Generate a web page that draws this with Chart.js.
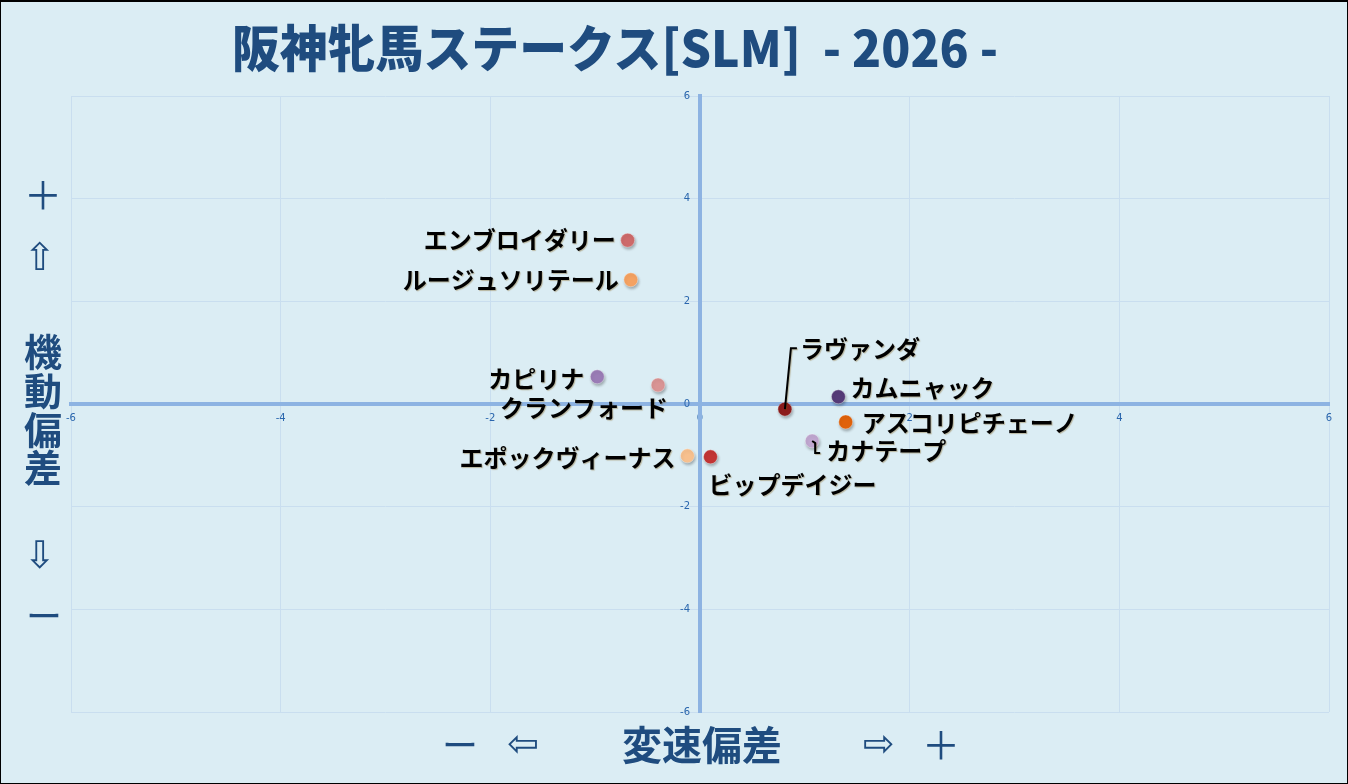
<!DOCTYPE html>
<html>
<head>
<meta charset="utf-8">
<script src="https://cdn.jsdelivr.net/npm/chart.js@4.4.1/dist/chart.umd.min.js"></script>
<style>
  html, body { margin:0; padding:0; background:#dbedf4; }
  #wrap { position:relative; width:1348px; height:784px; overflow:hidden; background:#dbedf4; }
  #cv { position:absolute; left:0; top:0; }
  .lbl { position:absolute; transform:translate(-50%,-50%); color:#1f4c7f; font-family:"Noto Sans CJK JP","Noto Sans",sans-serif; font-weight:700; white-space:nowrap; line-height:1; }
  .thin { font-weight:400; }
  .sym { font-family:"DejaVu Sans","Noto Sans CJK JP",sans-serif; font-weight:400; }
  #title { position:absolute; left:615px; top:45px; transform-origin:center center; color:#1f4c7f; font-family:"Noto Sans CJK JP",sans-serif; font-weight:900; font-size:50px; white-space:pre; line-height:1; }
  #frame { position:absolute; left:0; top:0; width:1348px; height:784px; box-sizing:border-box; border:1px solid #000; border-top-width:2px; pointer-events:none; }
</style>
</head>
<body>
<div id="wrap">
  <canvas id="cv" width="1348" height="784"></canvas>
  <div id="title">阪神牝馬ステークス[SLM]  - 2026 -</div>
  <div class="lbl thin" style="left:43px;top:193px;font-size:38px;">＋</div>
  <div class="lbl sym" style="left:40px;top:257px;font-size:38px;">⇧</div>
  <div class="lbl" style="left:43px;top:350px;font-size:38px;">機</div>
  <div class="lbl" style="left:43px;top:389px;font-size:38px;">動</div>
  <div class="lbl" style="left:43px;top:428px;font-size:38px;">偏</div>
  <div class="lbl" style="left:43px;top:466px;font-size:38px;">差</div>
  <div class="lbl sym" style="left:40px;top:555px;font-size:38px;">⇩</div>
  <div class="lbl thin" style="left:44px;top:614px;font-size:36px;">ー</div>
  <div class="lbl thin" style="left:460px;top:743px;font-size:36px;">ー</div>
  <div class="lbl sym" style="left:523px;top:743px;font-size:38px;">⇦</div>
  <div class="lbl" style="left:702px;top:743px;font-size:40px;">変速偏差</div>
  <div class="lbl sym" style="left:879px;top:743px;font-size:38px;">⇨</div>
  <div class="lbl thin" style="left:941px;top:743px;font-size:38px;">＋</div>
  <div id="frame"></div>
</div>
<script>
// ---- data ----
const horseNames = ["エンブロイダリー","ルージュソリテール","カピリナ","クランフォード","エポックヴィーナス","ビップデイジー","ラヴァンダ","カムニャック","アスコリピチェーノ","カナテープ"];
const speedDev   = [-0.69, -0.66, -0.98, -0.40, -0.12, 0.10, 0.81, 1.32, 1.39, 1.07];
const mobilityDev= [ 3.19,  2.42,  0.53,  0.37, -1.01, -1.03, -0.10, 0.14, -0.35, -0.72];
const pointColors= ["#cd6a6a","#f4a262","#9a7cb6","#d99494","#f7c08e","#c23535","#8c1c1c","#553a78","#e0620b","#c0a7d0"];
const xTicks = [-6,-4,-2,0,2,4,6];
const yTicks = [-6,-4,-2,0,2,4,6];

// ---- label placement (style) ----
const labelStyle = [
  {dx:-12, dy:0,  align:'right'},
  {dx:-12, dy:0,  align:'right'},
  {dx:-13, dy:2,  align:'right'},
  {dx:10,  dy:23, align:'right'},
  {dx:-12, dy:2,  align:'right'},
  {dx:-2,  dy:28, align:'left'},
  {dx:15,  dy:-60,align:'left', leader:[[6,-61],[12,-61]]},
  {dx:12,  dy:-9, align:'left'},
  {dx:16,  dy:1,  align:'left'},
  {dx:14,  dy:10, align:'left', leader:[[3,2],[3,12],[8,12]]}
];

const points = speedDev.map((x,i)=>({x:x, y:mobilityDev[i]}));

const labelPlugin = {
  id:'horseLabels',
  afterDatasetsDraw(chart){
    const ctx = chart.ctx;
    const meta = chart.getDatasetMeta(0);
    ctx.save();
    ctx.font = '700 24px "Noto Sans CJK JP", sans-serif';
    ctx.textBaseline = 'middle';
    meta.data.forEach((el,i)=>{
      const s = labelStyle[i];
      const px = el.x, py = el.y;
      if (s.leader){
        ctx.save();
        ctx.strokeStyle = '#000'; ctx.lineWidth = 2;
        ctx.beginPath();
        ctx.moveTo(px, py);
        s.leader.forEach(p=>ctx.lineTo(px+p[0], py+p[1]));
        ctx.stroke();
        ctx.restore();
      }
      ctx.textAlign = s.align;
      ctx.shadowColor = 'rgba(120,80,0,0.35)';
      ctx.shadowOffsetX = 1; ctx.shadowOffsetY = 1; ctx.shadowBlur = 1;
      ctx.fillStyle = '#000';
      ctx.fillText(horseNames[i], px+s.dx, py+s.dy);
    });
    ctx.restore();
  }
};
const shadowPlugin = {
  id:'ptShadow',
  beforeDatasetsDraw(chart){ const c=chart.ctx; c.save(); c.shadowColor='rgba(0,0,0,0.3)'; c.shadowBlur=3; c.shadowOffsetX=1; c.shadowOffsetY=2; },
  afterDatasetsDraw(chart){ chart.ctx.restore(); }
};

new Chart(document.getElementById('cv'), {
  type:'scatter',
  data:{ datasets:[{
    data: points,
    pointRadius:7, pointHoverRadius:7,
    pointBackgroundColor: pointColors,
    pointBorderColor: 'rgba(255,255,255,0.35)',
    pointBorderWidth: 1
  }]},
  options:{
    responsive:false, animation:false,
    layout:{ padding:{left:71, right:19, top:96, bottom:72} },
    plugins:{ legend:{display:false}, tooltip:{enabled:false}, title:{display:false} },
    scales:{
      x:{ type:'linear', min:-6, max:6, position:{y:0},
          afterBuildTicks(s){ s.ticks = xTicks.map(v=>({value:v})); },
          grid:{ color:'#c9deef', lineWidth:1, drawTicks:false },
          border:{ color:'#8db3e2', width:4 },
          ticks:{ color:'#2a66ad', font:{size:10, family:'"DejaVu Sans", sans-serif'}, padding:8, maxRotation:0 } },
      y:{ type:'linear', min:-6, max:6, position:{x:0},
          afterBuildTicks(s){ s.ticks = yTicks.map(v=>({value:v})); },
          grid:{ color:'#c9deef', lineWidth:1, drawTicks:false },
          border:{ color:'#8db3e2', width:4 },
          ticks:{ color:'#2a66ad', font:{size:10, family:'"DejaVu Sans", sans-serif'}, padding:10,
                  callback:(v)=> v + '\u2003' } }
    }
  },
  plugins:[shadowPlugin, labelPlugin]
});

// condense title to match reference width
const t = document.getElementById('title');
const w = t.getBoundingClientRect().width;
t.style.transform = 'translate(-50%,-50%) scaleX(' + (766 / w) + ')';
</script>
</body>
</html>
